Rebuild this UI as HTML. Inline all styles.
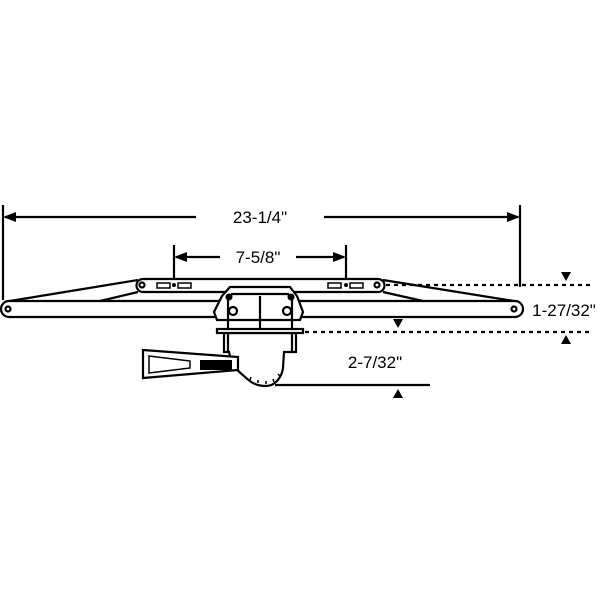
<!DOCTYPE html>
<html><head><style>html,body{margin:0;padding:0;background:#fff}</style></head><body>
<svg width="600" height="600" viewBox="0 0 600 600" xmlns="http://www.w3.org/2000/svg" font-family="Liberation Sans, sans-serif">
<g stroke="#000" stroke-width="2.2" fill="none">
<!-- dims -->
<line x1="3" y1="205" x2="3" y2="300"/>
<line x1="520" y1="205" x2="520" y2="287"/>
<line x1="5" y1="217" x2="196" y2="217"/>
<line x1="324" y1="217" x2="518" y2="217"/>
<line x1="174" y1="245" x2="174" y2="278"/>
<line x1="346" y1="245" x2="346" y2="278"/>
<line x1="176" y1="257" x2="220" y2="257"/>
<line x1="296" y1="257" x2="344" y2="257"/>
<line x1="386" y1="285" x2="592" y2="285" stroke-dasharray="4,4"/>
<line x1="305" y1="332" x2="592" y2="332" stroke-dasharray="4,4"/>
<line x1="275" y1="385" x2="430" y2="385"/>
<!-- long arm -->
<path d="M9,301 H515 A8,8 0 0 1 515,317 H9 A8,8 0 0 1 9,301 Z" fill="#fff"/>
<circle cx="8" cy="309" r="2.5"/><circle cx="514" cy="309" r="2.5"/>
<!-- diagonals -->
<line x1="10" y1="301" x2="138" y2="280"/>
<line x1="100" y1="301" x2="138" y2="292"/>
<line x1="383" y1="280" x2="514" y2="301"/>
<line x1="383" y1="292" x2="423" y2="301"/>
<!-- short bar -->
<path d="M143,279 H378 A6.5,6.5 0 0 1 378,292 H143 A6.5,6.5 0 0 1 143,279 Z" fill="#fff"/>
<circle cx="142" cy="285" r="2.5"/><circle cx="377" cy="285" r="2.5"/>
<rect x="157" y="283" width="13" height="5" stroke-width="1.5"/>
<rect x="178" y="283" width="13" height="5" stroke-width="1.5"/>
<rect x="328" y="283" width="13" height="5" stroke-width="1.5"/>
<rect x="350" y="283" width="13" height="5" stroke-width="1.5"/>
<!-- housing lower body -->
<path d="M224,333 V352 H229 C231,362 236,370 244,376 C252,384 258,386 266,386 C276,386 282,376 283,368 L284,352 H296 V333 Z" fill="#fff"/>
<path d="M228,333 V352 M292,333 V352"/>
<path d="M250,380 l1,-3 M258,383 l0,-3 M266,384 l0,-3 M274,382 l-1,-3 M280,376 l-2,-2" stroke-width="1.5"/>
<!-- housing top -->
<path d="M230,287 H290 L297,296 L303,312 L300,320 L217,320 L214,312 L222,296 Z" fill="#fff"/>
<path d="M228,300 L232,294 H288 L292,300 V329 M228,300 V329"/>
<line x1="260" y1="296" x2="260" y2="329"/>
<circle cx="233" cy="311" r="4"/><circle cx="287" cy="311" r="4"/>
<rect x="217" y="329" width="86" height="4" fill="#fff"/>
<!-- handle -->
<path d="M143,350 L238,357 L238,370 L143,378 Z" fill="#fff"/>
<path d="M149,356 L190,361 L190,368 L149,373 Z" stroke-width="1.5"/>
</g>
<g fill="#000">
<circle cx="229" cy="297" r="3.5"/><circle cx="291" cy="297" r="3.5"/>
<circle cx="174" cy="285" r="2"/><circle cx="346" cy="285" r="2"/>
<rect x="200" y="360" width="32" height="10"/>
<path d="M3,217 l13,-5 v10 z M520,217 l-13,-5 v10 z M174,257 l13,-5 v10 z M346,257 l-13,-5 v10 z"/>
<path d="M561,272 h10 l-5,9 z M561,344 h10 l-5,-9 z M393,319 h10 l-5,9 z M393,398 h10 l-5,-9 z"/>
</g>
<g font-size="17" fill="#000" text-anchor="middle">
<text x="260" y="223">23-1/4"</text>
<text x="258" y="263">7-5/8"</text>
<text x="564" y="316">1-27/32"</text>
<text x="375" y="368">2-7/32"</text>
</g>
</svg>
</body></html>
